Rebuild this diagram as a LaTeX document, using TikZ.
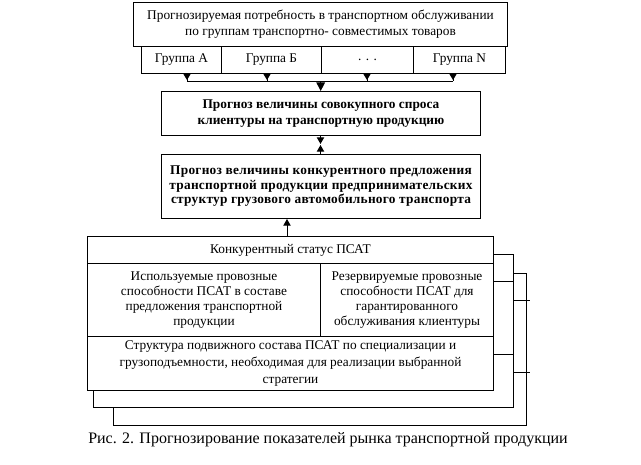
\documentclass[tikz,border=0pt]{standalone}
\usepackage{fontspec}
\setmainfont{Liberation Serif}
\newfontfamily\spacedbf[LetterSpace=2]{Liberation Serif}
\usetikzlibrary{arrows.meta}
\tikzset{
  box/.style={draw, line width=0.75pt, fill=white, inner sep=0pt, align=center, anchor=north west, font=\fontsize{10}{12}\selectfont},
  line/.style={line width=0.75pt},
  tipS/.style={-{Triangle[width=5.25pt,length=4.5pt]}, line width=0.75pt},
  tipM/.style={-{Triangle[width=5.5pt,length=5pt]}, line width=0.75pt},
  tipL/.style={-{Triangle[width=6.5pt,length=6.5pt]}, line width=0.75pt},
}
\begin{document}
\begin{tikzpicture}[x=0.75pt,y=-0.75pt]
\useasboundingbox (0,0) rectangle (641,464);
% top box
\node[box, minimum width={374*0.75pt}, minimum height={44*0.75pt}] (top) at (133,2)
  {Прогнозируемая потребность в транспортном обслуживании\\по группам транспортно- совместимых товаров};
\node[box, minimum width={80*0.75pt}, minimum height={27*0.75pt}] (ga) at (141,46) {Группа А};
\node[box, minimum width={100*0.75pt}, minimum height={27*0.75pt}] (gb) at (221,46) {Группа Б};
\node[box, minimum width={92*0.75pt}, minimum height={27*0.75pt}] (gd) at (321,46) {. . .};
\node[box, minimum width={92*0.75pt}, minimum height={27*0.75pt}] (gn) at (413,46) {Группа N};
% box 2
\node[box, minimum width={319*0.75pt}, minimum height={44*0.75pt}, font=\fontsize{10}{12.5}\selectfont\bfseries] (b2) at (161,91)
  {Прогноз величины совокупного спроса\\клиентуры на транспортную продукцию};
% box 3
\node[box, minimum width={319*0.75pt}, minimum height={64*0.75pt}, font=\fontsize{10}{10.9}\spacedbf\bfseries] (b3) at (161,154)
  {Прогноз величины конкурентного предложения\\транспортной продукции предпринимательских\\структур грузового автомобильного транспорта};
% group connectors
\coordinate (j1) at (187,81);
\coordinate (j2) at (267,81);
\coordinate (j3) at (367,81);
\coordinate (j4) at (453,81);
\coordinate (jm) at (320.7,81);
\draw[line] (j1 |- ga.south) -- (j1);
\draw[line] (j2 |- gb.south) -- (j2);
\draw[line] (j3 |- gd.south) -- (j3);
\draw[line] (j4 |- gn.south) -- (j4);
\draw[tipS] (j1 |- ga.south) -- ++(0,6);
\draw[tipS] (j2 |- gb.south) -- ++(0,6);
\draw[tipS] (j3 |- gd.south) -- ++(0,6);
\draw[tipS] (j4 |- gn.south) -- ++(0,6);
\draw[line] (j1) -- (j4);
\draw[tipL] (jm) -- (jm |- b2.north);
% box2 <-> box3
\coordinate (m23) at (320.5,140);
\draw[tipM] (m23 |- b2.south) -- ++(0,8);
\draw[tipM] (m23 |- b3.north) -- ++(0,-9);
% stacked status boxes (back layers)
\node[box, minimum width={413*0.75pt}, minimum height={152*0.75pt}] (s3) at (113,273) {};
\node[box, minimum width={420*0.75pt}, minimum height={153*0.75pt}] (s2) at (93,254) {};
\draw[line] (513,300.7) -- (530,300.7);
\draw[line] (513,372.7) -- (530,372.7);
\draw[line] (493,281) -- (513,281);
\draw[line] (493,354) -- (513,354);
% front layer
\node[box, minimum width={406*0.75pt}, minimum height={27*0.75pt}] (st) at (87,236) {Конкурентный статус ПСАТ};
\node[box, minimum width={233*0.75pt}, minimum height={73*0.75pt}, font=\fontsize{10}{11.25}\selectfont] (sl) at (87,263)
  {Используемые провозные\\способности ПСАТ в составе\\предложения транспортной\\продукции};
\node[box, minimum width={173*0.75pt}, minimum height={73*0.75pt}, font=\fontsize{10}{11.25}\selectfont] (sr) at (320,263)
  {Резервируемые провозные\\способности ПСАТ для\\гарантированного\\обслуживания клиентуры};
\node[box, minimum width={406*0.75pt}, minimum height={54*0.75pt}, font=\fontsize{10}{12.5}\selectfont] (sb) at (87,336)
  {Структура подвижного состава ПСАТ по специализации и\\грузоподъемности, необходимая для реализации выбранной\\стратегии};
% status -> box3
\coordinate (m3) at (287,226);
\draw[tipM] (m3 |- st.north) -- (m3 |- b3.south);
% caption
\node[inner sep=0pt, font=\fontsize{12}{14}\selectfont] (cap) at (328,440)
  {Рис. 2. Прогнозирование показателей рынка транспортной продукции};
\end{tikzpicture}
\end{document}
